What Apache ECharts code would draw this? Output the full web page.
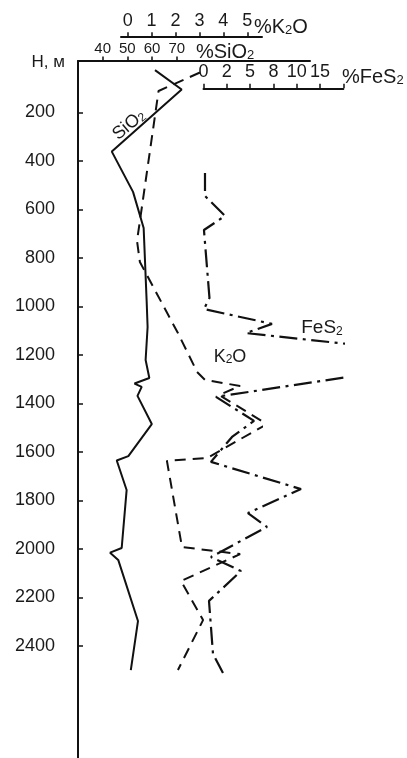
<!DOCTYPE html>
<html><head><meta charset="utf-8">
<script src="https://cdn.jsdelivr.net/npm/echarts@6/dist/echarts.min.js"></script>
<style>html,body{margin:0;padding:0;background:#fff}#c{width:407px;height:758px}</style>
</head><body><div id="c"></div>
<script>
// ---- data ----
const depthTicks = [200,400,600,800,1000,1200,1400,1600,1800,2000,2200,2400];
const sio2Ticks = [40,50,60,70];
const k2oTicks = [0,1,2,3,4,5];
const fes2TickValues = [0,2.5,5,7.5,10,12.5,15];
const fes2TickLabels = ['0','2','5','8','10','15',''];

const sio2Depth  = [26,106,362,528,677,974,1085,1221,1295,1318,1332,1369,1485,1617,1635,1757,1996,2015,2045,2297,2499];
const sio2Values = [61.2,72.0,43.7,52.3,56.6,57.8,58.2,57.4,58.9,52.9,55.8,54.1,59.9,50.4,45.7,49.7,47.7,43.0,46.3,54.3,51.4];

const k2oDepth  = [36,112,730,817,1110,1270,1303,1328,1365,1485,1625,1637,1992,2021,2132,2293,2499];
const k2oValues = [3.02,1.29,0.39,0.51,2.10,2.90,3.23,4.70,3.82,5.82,3.32,1.64,2.27,4.70,2.23,3.15,2.10];

const fes2Depth  = [450,545,627,685,965,1011,1072,1110,1167,null,1274,1373,1472,1538,1641,1753,1852,1909,2033,2091,2214,2433,2511];
const fes2Values = [0.16,0.16,2.31,0.05,0.64,0.05,7.35,4.56,18.4,null,18.4,1.34,5.42,3.06,0.80,10.46,4.77,6.81,0.80,4.02,0.59,1.02,2.09];

// ---- chart ----
const font = '"Liberation Sans", Arial, sans-serif';
const txt = '#1a1a1a';
const ink = '#111';
const pair = (xs, ys) => xs.map((v, i) => (v == null ? ['-', '-'] : [v, ys[i]]));
const lineS = {color: ink, width: 2};
const gridBase = {bottom: 0, containLabel: false, outerBoundsMode: 'none'};
const hiddenY = (idx, min) => ({gridIndex: idx, type: 'value', inverse: true, min: min, max: 2861.5, show: false, axisLine: {onZero: false}});
const sub = (parts, big, small) => ({
  text: parts,
  rich: {
    n: {fontSize: big, lineHeight: big, fontFamily: font, fill: txt, color: txt},
    s: {fontSize: small, lineHeight: small, verticalAlign: 'bottom', fontFamily: font, fill: txt, color: txt}
  }
});
const place = (align) => ({fill: txt, align: align, verticalAlign: 'middle', textAlign: align, textVerticalAlign: 'middle'});

const chart = echarts.init(document.getElementById('c'), null, {renderer: 'canvas', width: 407, height: 758});
chart.setOption({
  animation: false,
  backgroundColor: '#fff',
  textStyle: {fontFamily: font},
  grid: [
    Object.assign({left: 78, top: 61, right: 97}, gridBase),
    Object.assign({left: 121, top: 36.7, right: 145}, gridBase),
    Object.assign({left: 203.5, top: 88.3, right: 63.7}, gridBase)
  ],
  xAxis: [
    {gridIndex: 0, type: 'value', position: 'top', min: 30, max: 124,
     axisLine: {show: true, onZero: false, lineStyle: lineS},
     axisTick: {show: true, length: 4.5, customValues: sio2Ticks, lineStyle: {color: ink, width: 1.5}},
     axisLabel: {customValues: sio2Ticks, fontSize: 15, color: txt, margin: 5, fontFamily: font},
     splitLine: {show: false}},
    {gridIndex: 1, type: 'value', position: 'top', min: -0.28, max: 5.615,
     axisLine: {show: true, onZero: false, lineStyle: lineS},
     axisTick: {show: true, length: 4.5, customValues: k2oTicks, lineStyle: {color: ink, width: 1.5}},
     axisLabel: {customValues: k2oTicks, fontSize: 18, color: txt, margin: 7, fontFamily: font},
     splitLine: {show: false}},
    {gridIndex: 2, type: 'value', position: 'top', min: 0, max: 15,
     axisLine: {show: true, onZero: false, lineStyle: lineS},
     axisTick: {show: true, length: 4.5, customValues: fes2TickValues, lineStyle: {color: ink, width: 1.5}},
     axisLabel: {customValues: fes2TickValues.slice(0, 6), fontSize: 18, color: txt, margin: 7, fontFamily: font,
                 formatter: v => fes2TickLabels[fes2TickValues.indexOf(v)]},
     splitLine: {show: false}}
  ],
  yAxis: [
    {gridIndex: 0, type: 'value', inverse: true, min: -11.5, max: 2861.5,
     axisLine: {show: true, onZero: false, lineStyle: lineS},
     axisTick: {show: true, inside: true, length: 5, customValues: depthTicks, lineStyle: {color: ink, width: 1.5}},
     axisLabel: {customValues: depthTicks, fontSize: 18, color: txt, margin: 23, fontFamily: font,
                 formatter: v => String(v)},
     splitLine: {show: false}},
    hiddenY(1, -111.7),
    hiddenY(2, 101)
  ],
  series: [
    {type: 'line', name: 'SiO2', xAxisIndex: 0, yAxisIndex: 0, data: pair(sio2Values, sio2Depth),
     symbol: 'none', clip: false, silent: true, lineStyle: {color: ink, width: 2}},
    {type: 'line', name: 'K2O', xAxisIndex: 1, yAxisIndex: 1, data: pair(k2oValues, k2oDepth),
     symbol: 'none', clip: false, silent: true, lineStyle: {color: ink, width: 2, type: [11, 7]}},
    {type: 'line', name: 'FeS2', xAxisIndex: 2, yAxisIndex: 2, data: pair(fes2Values, fes2Depth),
     symbol: 'none', clip: false, silent: true, connectNulls: false,
     lineStyle: {color: ink, width: 2.2, type: [18, 5.5, 3, 5.5]}}
  ],
  graphic: [
    {type: 'text', x: 65, y: 62, style: Object.assign({text: 'Н, м', font: '17px ' + font}, place('right'))},
    {type: 'text', x: 254, y: 27, style: Object.assign(sub('{n|%}{n|K}{s|2}{n|O}', 20, 13), place('left'))},
    {type: 'text', x: 196, y: 52, style: Object.assign(sub('{n|%}{n|SiO}{s|2}', 20, 13), place('left'))},
    {type: 'text', x: 342, y: 77, style: Object.assign(sub('{n|%}{n|FeS}{s|2}', 20, 13), place('left'))},
    {type: 'text', x: 129, y: 125, rotation: 0.70, style: Object.assign(sub('{n|SiO}{s|2}', 18, 12), place('center'))},
    {type: 'text', x: 322, y: 328, style: Object.assign(sub('{n|FeS}{s|2}', 19, 12), place('center'))},
    {type: 'text', x: 230, y: 357, style: Object.assign(sub('{n|K}{s|2}{n|O}', 18, 12), place('center'))}
  ]
});
</script>
</body></html>
